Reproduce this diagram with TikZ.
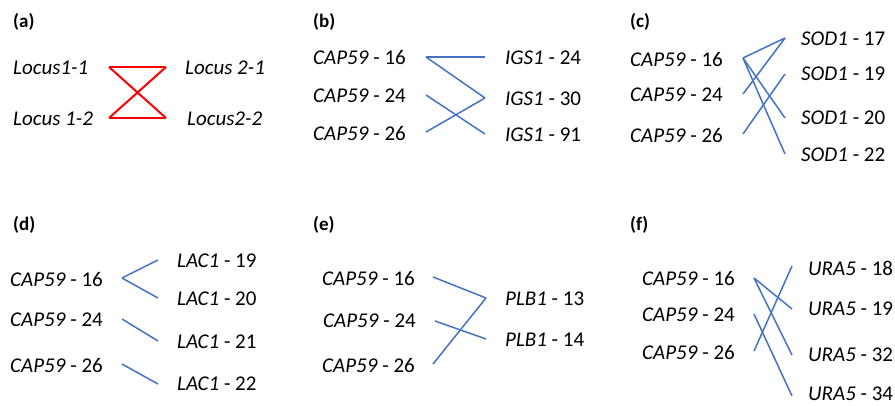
\documentclass[tikz,border=0pt]{standalone}
\usepackage{fontspec}
\setmainfont{Carlito}
\definecolor{lnblue}{HTML}{4472C4}
\newcommand\glab[2]{\textit{#1} - #2}
\tikzset{
  txt/.style={anchor=west, inner sep=0pt, font=\fontsize{21}{25}\selectfont},
  plab/.style={anchor=west, inner sep=0pt, font=\fontsize{19}{23}\selectfont\bfseries},
  redln/.style={draw=red, line width=2pt},
  bluln/.style={draw=lnblue, line width=1.5pt},
}
\begin{document}
\begin{tikzpicture}[x=1pt,y=-1pt]
\useasboundingbox[fill=white] (0,0) rectangle (895,405);
% (a)
\node[plab] (la) at (13,22) {(a)};
\node[txt] (a1) at (13,68) {\textit{Locus1-1}};
\node[txt] (a2) at (13,119) {\textit{Locus 1-2}};
\node[txt] (a3) at (185,68) {\textit{Locus 2-1}};
\node[txt] (a4) at (187,119) {\textit{Locus2-2}};
\coordinate (a1p) at (109,67);
\coordinate (a2p) at (109,118);
\coordinate (a3p) at (166,67);
\coordinate (a4p) at (166,118);
\draw[redln] (a1p) -- (a3p);
\draw[redln] (a2p) -- (a4p);
\draw[redln] (a1p) -- (a4p);
\draw[redln] (a2p) -- (a3p);
% (b)
\node[plab] (lb) at (313,22) {(b)};
\node[txt] (b1) at (313,57) {\glab{CAP59}{16}};
\node[txt] (b2) at (313,96) {\glab{CAP59}{24}};
\node[txt] (b3) at (313,133) {\glab{CAP59}{26}};
\node[txt] (b4) at (505,58) {\glab{IGS1}{24}};
\node[txt] (b5) at (505,99) {\glab{IGS1}{30}};
\node[txt] (b6) at (505,135) {\glab{IGS1}{91}};
\coordinate (b1p) at (426,57);
\coordinate (b2p) at (426,95);
\coordinate (b3p) at (426,132);
\coordinate (b4p) at (485,57);
\coordinate (b5p) at (485,98);
\coordinate (b6p) at (485,134);
\draw[bluln] (b1p) -- (b4p);
\draw[bluln] (b1p) -- (b5p);
\draw[bluln] (b2p) -- (b6p);
\draw[bluln] (b3p) -- (b5p);
% (c)
\node[plab] (lc) at (630,22) {(c)};
\node[txt] (c1) at (630,59) {\glab{CAP59}{16}};
\node[txt] (c2) at (630,95) {\glab{CAP59}{24}};
\node[txt] (c3) at (630,135) {\glab{CAP59}{26}};
\node[txt] (c4) at (801,39) {\glab{SOD1}{17}};
\node[txt] (c5) at (801,74) {\glab{SOD1}{19}};
\node[txt] (c6) at (801,118) {\glab{SOD1}{20}};
\node[txt] (c7) at (801,155) {\glab{SOD1}{22}};
\coordinate (c1p) at (743,58);
\coordinate (c2p) at (743,94);
\coordinate (c3p) at (743,134);
\coordinate (c4p) at (785,38);
\coordinate (c5p) at (785,74);
\coordinate (c6p) at (785,118);
\coordinate (c7p) at (785,154);
\draw[bluln] (c1p) -- (c4p);
\draw[bluln] (c1p) -- (c6p);
\draw[bluln] (c1p) -- (c7p);
\draw[bluln] (c2p) -- (c4p);
\draw[bluln] (c3p) -- (c5p);
% (d)
\node[plab] (ld) at (13,225) {(d)};
\node[txt] (d1) at (10,279) {\glab{CAP59}{16}};
\node[txt] (d2) at (10,320) {\glab{CAP59}{24}};
\node[txt] (d3) at (10,365) {\glab{CAP59}{26}};
\node[txt] (d4) at (177,261) {\glab{LAC1}{19}};
\node[txt] (d5) at (177,299) {\glab{LAC1}{20}};
\node[txt] (d6) at (177,342) {\glab{LAC1}{21}};
\node[txt] (d7) at (177,384) {\glab{LAC1}{22}};
\coordinate (d1p) at (122,278);
\coordinate (d2p) at (122,319);
\coordinate (d3p) at (122,364);
\coordinate (d4p) at (158,260);
\coordinate (d5p) at (158,298);
\coordinate (d6p) at (158,341);
\coordinate (d7p) at (158,384);
\draw[bluln] (d1p) -- (d4p);
\draw[bluln] (d1p) -- (d5p);
\draw[bluln] (d2p) -- (d6p);
\draw[bluln] (d3p) -- (d7p);
% (e)
\node[plab] (le) at (313,225) {(e)};
\node[txt] (e1) at (322,278) {\glab{CAP59}{16}};
\node[txt] (e2) at (323,321) {\glab{CAP59}{24}};
\node[txt] (e3) at (322,365) {\glab{CAP59}{26}};
\node[txt] (e4) at (505,299) {\glab{PLB1}{13}};
\node[txt] (e5) at (505,340) {\glab{PLB1}{14}};
\coordinate (e1p) at (433,277);
\coordinate (e2p) at (435,321);
\coordinate (e3p) at (433,364);
\coordinate (e4p) at (486,298);
\coordinate (e5p) at (486,339);
\draw[bluln] (e1p) -- (e4p);
\draw[bluln] (e2p) -- (e5p);
\draw[bluln] (e3p) -- (e4p);
% (f)
\node[plab] (lf) at (630,225) {(f)};
\node[txt] (f1) at (642,278) {\glab{CAP59}{16}};
\node[txt] (f2) at (642,315) {\glab{CAP59}{24}};
\node[txt] (f3) at (642,352) {\glab{CAP59}{26}};
\node[txt] (f4) at (808,268) {\glab{URA5}{18}};
\node[txt] (f5) at (808,309) {\glab{URA5}{19}};
\node[txt] (f6) at (808,355) {\glab{URA5}{32}};
\node[txt] (f7) at (808,394) {\glab{URA5}{34}};
\coordinate (f1p) at (754,278);
\coordinate (f2p) at (754,314);
\coordinate (f3p) at (754,351);
\coordinate (f4p) at (792,266);
\coordinate (f5p) at (792,309);
\coordinate (f6p) at (792,355);
\coordinate (f7p) at (792,396);
\draw[bluln] (f1p) -- (f5p);
\draw[bluln] (f1p) -- (f6p);
\draw[bluln] (f2p) -- (f7p);
\draw[bluln] (f3p) -- (f4p);
\end{tikzpicture}
\end{document}
